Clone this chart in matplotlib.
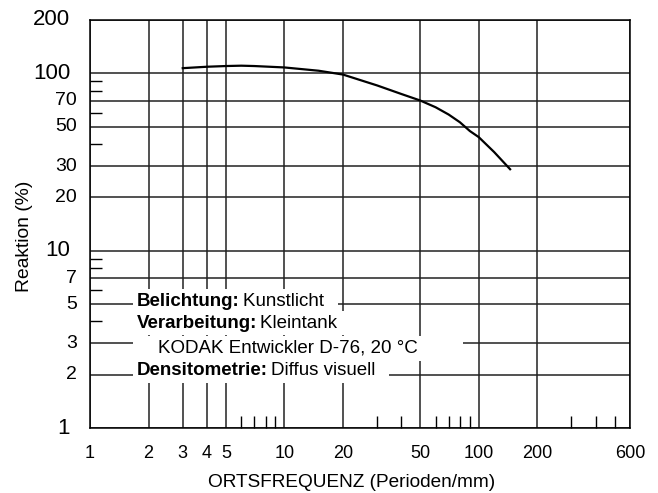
import numpy as np
import matplotlib.pyplot as plt
from matplotlib.ticker import NullFormatter
import matplotlib.transforms as mtransforms

plt.rcParams['font.family'] = ['Liberation Sans', 'DejaVu Sans']

# MTF-Kurve (Ortsfrequenz in Perioden/mm, Reaktion in %)
freq = [3, 4, 5, 6, 7, 10, 15, 20, 30, 40, 50, 60, 70, 80, 90, 100, 120, 145]
reaktion = [107, 109, 110, 110.5, 110, 108, 103.5, 98.5, 85.5, 76.5, 70.3, 64.4,
            58.6, 53, 47.3, 43.7, 36, 28.8]

x_labels = [1, 2, 3, 4, 5, 10, 20, 50, 100, 200, 600]
x_minor = [6, 7, 8, 9, 30, 40, 60, 70, 80, 90, 300, 400, 500]
y_labels = [1, 2, 3, 5, 7, 10, 20, 30, 50, 70, 100, 200]
y_big = [1, 10, 100, 200]
y_minor = [4, 6, 8, 9, 40, 60, 80, 90]

# fett / normal, Leerzeichen halten den weißen Hintergrund breiter
info = [
    ('Belichtung:', 'Kunstlicht  '),
    ('Verarbeitung:', 'Kleintank '),
    ('', '    KODAK Entwickler D-76, 20 °C        '),
    ('Densitometrie:', 'Diffus visuell  '),
]
base_y = [4.9, 3.68, 2.65, 1.99]

fig = plt.figure(figsize=(6.58, 4.93), dpi=100)
ax = fig.add_axes([90 / 658, 65 / 493, 540 / 658, 408 / 493])
ax.set_xscale('log')
ax.set_yscale('log')
ax.set_xlim(1, 600)
ax.set_ylim(1, 200)

ax.set_xticks(x_labels)
ax.set_xticklabels([str(v) for v in x_labels], fontsize=13)
ax.set_xticks(x_minor, minor=True)
ax.xaxis.set_minor_formatter(NullFormatter())
ax.set_yticks(y_labels)
ax.set_yticklabels([])
ax.set_yticks(y_minor, minor=True)
ax.yaxis.set_minor_formatter(NullFormatter())

ax.tick_params(which='major', length=0, pad=12)
ax.tick_params(which='minor', direction='in', length=8.5, width=1, color='black')
ax.grid(True, which='major', color='#222222', linewidth=1.1)
for s in ax.spines.values():
    s.set_color('black')
    s.set_linewidth(1.1)

# y-Beschriftung: große Zahlen für die Dekaden
trans = mtransforms.blended_transform_factory(ax.transAxes, ax.transData)
for v in y_labels:
    if v in y_big:
        ax.text(-0.037, v, str(v), transform=trans, ha='right', va='center',
                fontsize=16, clip_on=False)
    else:
        ax.text(-0.024, v, str(v), transform=trans, ha='right', va='center',
                fontsize=14, clip_on=False)

ax.plot(freq, reaktion, color='black', linewidth=1.6, zorder=3)

ax.set_xlabel('ORTSFREQUENZ (Perioden/mm)', fontsize=13.7)
ax.xaxis.set_label_coords(0.484, -0.112)
ax.set_ylabel('Reaktion (%)', fontsize=13.9)
ax.yaxis.set_label_coords(-0.106, 0.47)

# Angaben zur Messung, weiß hinterlegt
box = dict(facecolor='white', edgecolor='none', pad=2.5)
for (bold, normal), yb in zip(info, base_y):
    if bold:
        t = ax.text(1.745, yb, bold, fontsize=13.5, fontweight='bold',
                    va='baseline', ha='left', bbox=box, zorder=4)
        fig.canvas.draw()
        bb = t.get_window_extent()
        x_end = ax.transData.inverted().transform((bb.x1 + 3, bb.y0))[0]
        ax.text(x_end, yb, normal, fontsize=13.5, va='baseline', ha='left',
                bbox=box, zorder=4)
    else:
        ax.text(1.745, yb, normal, fontsize=13.5, va='baseline', ha='left',
                bbox=box, zorder=4)

fig.savefig('out.png', dpi=100)
